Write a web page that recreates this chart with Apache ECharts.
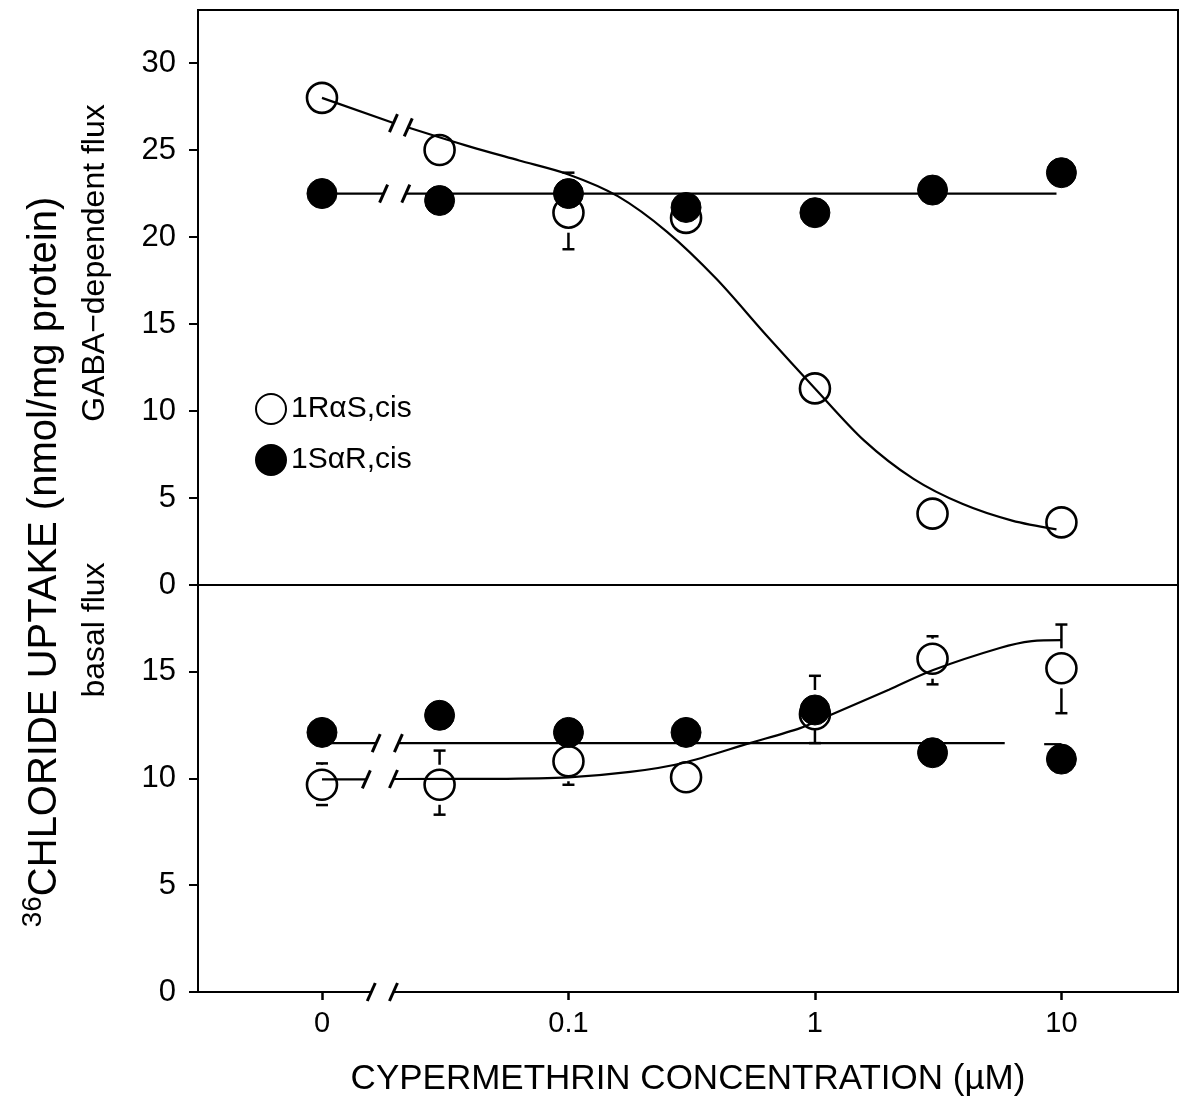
<!DOCTYPE html>
<html>
<head>
<meta charset="utf-8">
<script src="https://cdn.jsdelivr.net/npm/echarts@6/dist/echarts.min.js"></script>
<style>
  html, body { margin: 0; padding: 0; background: #fff; }
  #chart { width: 1181px; height: 1104px; }
</style>
</head>
<body>
<div id="chart"></div>
<script>
// Cypermethrin concentration (µM); the control (0) is drawn one decade below 0.1, past an axis break
const concentrations = [0, 0.03, 0.1, 0.3, 1, 3, 10];
const xTickValues = [0, 0.1, 1, 10];
const gabaTicks = [0, 5, 10, 15, 20, 25, 30];
const basalTicks = [0, 5, 10, 15];

// 36Cl uptake, nmol/mg protein
const gabaRaS = [28.0, 25.0, 21.4, 21.1, 11.3, 4.1, 3.6];
const gabaSaR = [22.5, 22.1, 22.5, 21.7, 21.4, 22.7, 23.7];
const basalRaS = [9.7, 9.7, 10.8, 10.05, 13.0, 15.6, 15.15];
const basalSaR = [12.15, 12.95, 12.15, 12.15, 13.2, 11.2, 10.9];

// error bar ends [low, high]; null where an end is hidden behind a symbol
const gabaRaSErr = [null, null, [19.3, null], null, null, null, null];
const gabaSaRErr = [null, null, [null, 23.7], null, null, null, null];
const basalRaSErr = [[8.75, 10.7], [8.3, 11.3], [9.7, null], null, null, [14.4, 16.65], [13.05, 17.2]];
const basalSaRErr = [null, null, null, null, [11.65, 14.8], null, null];

// fitted curves, [log10 µM, uptake], split into segments at the axis break (control at -2)
const gabaRaSFit = [
  [[-2, 28.0], [-1.71, 26.55]],
  [[-1.65, 26.3], [-1.4, 25.2], [-1.2, 24.4], [-1.0, 23.6], [-0.8, 22.35], [-0.6, 20.3],
   [-0.4, 17.6], [-0.2, 14.4], [0.0, 11.3], [0.2, 8.3], [0.4, 6.1], [0.6, 4.65],
   [0.8, 3.7], [0.98, 3.2]]
];
const gabaSaRFit = [
  [[-2, 22.5], [-1.75, 22.5]],
  [[-1.66, 22.5], [0.98, 22.5]]
];
const basalRaSFit = [
  [[-2, 9.95], [-1.82, 9.95]],
  [[-1.71, 9.97], [-1.3, 9.98], [-1.0, 10.05], [-0.75, 10.3], [-0.535, 10.72], [-0.264, 11.65],
   [-0.06, 12.35], [0.07, 13.0], [0.3, 14.15], [0.48, 15.07], [0.75, 16.1], [0.88, 16.42], [1.0, 16.47]]
];
const basalSaRFit = [
  [[-2, 11.65], [-1.78, 11.65]],
  [[-1.69, 11.65], [0.77, 11.65]],
  [[0.93, 11.6], [1.0, 11.6]]
];
// break in the concentration axis, log10 µM
const xAxisBreak = [-1.80, -1.71];

const FONT = '"Liberation Sans", Arial, Helvetica, sans-serif';
const R = 15;          // symbol radius, px
const INK = '#000';

const pos = c => (c === 0 ? -2 : Math.log10(c));
const xTickPos = xTickValues.map(pos);
const xLabel = v => {
  const i = xTickPos.findIndex(p => Math.abs(p - v) < 1e-6);
  return i < 0 ? '' : String(xTickValues[i]);
};

function fitSeries(segments, gi) {
  return segments.map(seg => ({
    type: 'line', xAxisIndex: gi, yAxisIndex: gi, data: seg,
    smooth: seg.length > 2 ? 0.3 : false,
    symbol: 'none', showSymbol: false, silent: true, z: 2,
    lineStyle: { color: INK, width: 2.2 }
  }));
}

function pointSeries(name, gi, values, filled) {
  return {
    name, type: 'scatter', xAxisIndex: gi, yAxisIndex: gi, silent: true,
    data: concentrations.map((c, i) => [pos(c), values[i]]),
    symbol: 'circle', symbolSize: 2 * R, z: filled ? 5 : 4,
    itemStyle: filled
      ? { color: INK, borderColor: INK, borderWidth: 1, opacity: 1 }
      : { color: 'rgba(255,255,255,0)', borderColor: INK, borderWidth: 2.6, opacity: 1 },
    emphasis: { disabled: true }
  };
}

function errorSeries(gi, values, errs) {
  const data = [];
  concentrations.forEach((c, i) => {
    const e = errs[i];
    if (e) data.push([pos(c), values[i], e[0] == null ? NaN : e[0], e[1] == null ? NaN : e[1]]);
  });
  return {
    type: 'custom', xAxisIndex: gi, yAxisIndex: gi, data, silent: true, z: 3,
    encode: { x: 0, y: 1 },
    renderItem(params, api) {
      const x = api.value(0);
      const c = api.coord([x, api.value(1)]);
      const kids = [];
      const st = { stroke: INK, lineWidth: 2.5 };
      [api.value(2), api.value(3)].forEach(end => {
        if (end == null || isNaN(end)) return;
        const p = api.coord([x, end]);
        const dir = Math.sign(p[1] - c[1]);
        const from = c[1] + dir * (R + 5);
        if ((p[1] - from) * dir > 0) {
          kids.push({ type: 'line', shape: { x1: c[0], y1: from, x2: c[0], y2: p[1] }, style: st });
        }
        kids.push({ type: 'line', shape: { x1: c[0] - 6, y1: p[1], x2: c[0] + 6, y2: p[1] }, style: st });
      });
      return { type: 'group', children: kids };
    }
  };
}

// "//" marks where a fitted line crosses the axis break
function breakMarks(gi, fits) {
  const data = [];
  fits.forEach(fit => {
    if (fit.length > 1) {
      data.push(fit[0][fit[0].length - 1]);
      data.push(fit[1][0]);
    }
  });
  return {
    type: 'custom', xAxisIndex: gi, yAxisIndex: gi, data, silent: true, z: 3,
    encode: { x: 0, y: 1 },
    renderItem(params, api) {
      const p = api.coord([api.value(0), api.value(1)]);
      return { type: 'line', shape: { x1: p[0] - 4, y1: p[1] + 9, x2: p[0] + 4, y2: p[1] - 9 },
               style: { stroke: INK, lineWidth: 3 } };
    }
  };
}

const axisBreakSeries = {
  type: 'custom', xAxisIndex: 1, yAxisIndex: 1, silent: true, z: 6,
  data: [[xAxisBreak[0], xAxisBreak[1], 0]],
  encode: { x: [0, 1], y: 2 },
  renderItem(params, api) {
    const a = api.coord([api.value(0), api.value(2)]);
    const b = api.coord([api.value(1), api.value(2)]);
    const st = { stroke: INK, lineWidth: 3 };
    return {
      type: 'group', children: [
        { type: 'rect', shape: { x: a[0], y: a[1] - 4, width: b[0] - a[0], height: 8 }, style: { fill: '#fff' } },
        { type: 'line', shape: { x1: a[0] - 4, y1: a[1] + 9, x2: a[0] + 4, y2: a[1] - 9 }, style: st },
        { type: 'line', shape: { x1: b[0] - 4, y1: b[1] + 9, x2: b[0] + 4, y2: b[1] - 9 }, style: st }
      ]
    };
  }
};

function yAxis(gi, max, ticks) {
  return {
    type: 'value', gridIndex: gi, min: 0, max,
    axisLine: { show: true, onZero: false, lineStyle: { color: INK, width: 2 } },
    axisTick: { show: true, length: 9, customValues: ticks, lineStyle: { color: INK, width: 2 } },
    axisLabel: { show: true, customValues: ticks, margin: 22, color: INK, fontSize: 31, fontFamily: FONT },
    splitLine: { show: false }
  };
}

const chart = echarts.init(document.getElementById('chart'), null, { renderer: 'canvas' });
chart.setOption({
  animation: false,
  backgroundColor: '#fff',
  grid: [
    { left: 198, top: 10, width: 980, height: 575, show: true, borderColor: INK, borderWidth: 2, backgroundColor: 'transparent' },
    { left: 198, top: 585, width: 980, height: 407, show: true, borderColor: INK, borderWidth: 2, backgroundColor: 'transparent' }
  ],
  xAxis: [
    { type: 'value', gridIndex: 0, min: -2.503, max: 1.473,
      axisLine: { show: true, onZero: false, lineStyle: { color: INK, width: 2 } },
      axisTick: { show: false }, axisLabel: { show: false }, splitLine: { show: false } },
    { type: 'value', gridIndex: 1, min: -2.503, max: 1.473,
      axisLine: { show: true, onZero: false, lineStyle: { color: INK, width: 2 } },
      axisTick: { show: true, length: 8, customValues: xTickPos, lineStyle: { color: INK, width: 2.5 } },
      axisLabel: { show: true, customValues: xTickPos, formatter: xLabel, margin: 17, color: INK, fontSize: 29, fontFamily: FONT },
      splitLine: { show: false },
      name: 'CYPERMETHRIN CONCENTRATION (\u00b5M)', nameLocation: 'middle', nameGap: 70,
      nameTextStyle: { color: INK, fontSize: 35, fontFamily: FONT } }
  ],
  yAxis: [yAxis(0, 33.05, gabaTicks), yAxis(1, 19.05, basalTicks)],
  legend: {
    left: 250, top: 388, orient: 'vertical', itemWidth: 30, itemHeight: 30, itemGap: 19,
    data: ['1R\u03b1S,cis', '1S\u03b1R,cis'],
    textStyle: { color: INK, fontSize: 30, fontFamily: FONT },
    selectedMode: false
  },
  graphic: [
    { type: 'text', x: 45, y: 562, rotation: Math.PI / 2,
      style: {
        text: '{s|36}{m|CHLORIDE UPTAKE (nmol/mg protein)}',
        align: 'center', verticalAlign: 'middle', fill: INK,
        rich: {
          s: { fontSize: 28, fontFamily: FONT, lineHeight: 28, verticalAlign: 'bottom', padding: [0, 0, 18, 0] },
          m: { fontSize: 40, fontFamily: FONT, lineHeight: 40, verticalAlign: 'bottom' }
        }
      } },
    { type: 'text', x: 95, y: 263, rotation: Math.PI / 2,
      style: { text: 'GABA\u2212dependent flux', align: 'center', verticalAlign: 'middle', fill: INK, fontSize: 32, fontFamily: FONT } },
    { type: 'text', x: 95, y: 630, rotation: Math.PI / 2,
      style: { text: 'basal flux', align: 'center', verticalAlign: 'middle', fill: INK, fontSize: 32, fontFamily: FONT } }
  ],
  series: [
    ...fitSeries(gabaRaSFit, 0),
    ...fitSeries(gabaSaRFit, 0),
    ...fitSeries(basalRaSFit, 1),
    ...fitSeries(basalSaRFit, 1),
    breakMarks(0, [gabaRaSFit, gabaSaRFit]),
    breakMarks(1, [basalRaSFit, basalSaRFit]),
    axisBreakSeries,
    errorSeries(0, gabaRaS, gabaRaSErr),
    errorSeries(1, basalRaS, basalRaSErr),
    pointSeries('1R\u03b1S,cis', 0, gabaRaS, false),
    pointSeries('1R\u03b1S,cis', 1, basalRaS, false),
    errorSeries(0, gabaSaR, gabaSaRErr),
    errorSeries(1, basalSaR, basalSaRErr),
    pointSeries('1S\u03b1R,cis', 0, gabaSaR, true),
    pointSeries('1S\u03b1R,cis', 1, basalSaR, true)
  ]
});
</script>
</body>
</html>
